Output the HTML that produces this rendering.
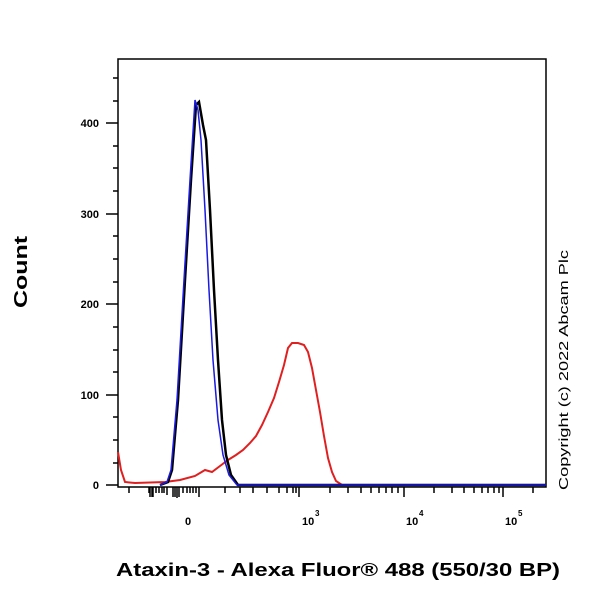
<!DOCTYPE html>
<html><head><style>body{margin:0;background:#fff}svg{display:block}</style></head><body>
<svg width="600" height="600" xmlns="http://www.w3.org/2000/svg" font-family="Liberation Sans, sans-serif">
<rect x="0" y="0" width="600" height="600" fill="#fff"/>
<rect x="118" y="59" width="428" height="428" fill="none" stroke="#000" stroke-width="1.5"/>
<g stroke="#000" stroke-width="1.5">
<line x1="106" y1="485" x2="118" y2="485"/><line x1="106" y1="395" x2="118" y2="395"/><line x1="106" y1="304" x2="118" y2="304"/><line x1="106" y1="214" x2="118" y2="214"/><line x1="106" y1="123" x2="118" y2="123"/>
<line x1="113" y1="463" x2="118" y2="463"/><line x1="113" y1="440" x2="118" y2="440"/><line x1="113" y1="417" x2="118" y2="417"/><line x1="113" y1="372" x2="118" y2="372"/><line x1="113" y1="350" x2="118" y2="350"/><line x1="113" y1="327" x2="118" y2="327"/><line x1="113" y1="282" x2="118" y2="282"/><line x1="113" y1="259" x2="118" y2="259"/><line x1="113" y1="236" x2="118" y2="236"/><line x1="113" y1="191" x2="118" y2="191"/><line x1="113" y1="168" x2="118" y2="168"/><line x1="113" y1="146" x2="118" y2="146"/><line x1="113" y1="101" x2="118" y2="101"/><line x1="113" y1="78" x2="118" y2="78"/>
</g>
<g font-size="11" font-weight="bold" text-anchor="end">
<text x="99" y="489">0</text><text x="99" y="399">100</text><text x="99" y="308">200</text><text x="99" y="218">300</text><text x="99" y="127">400</text>
</g>
<g stroke="#000" stroke-width="1.5">
<line x1="129" y1="487" x2="129" y2="493"/><line x1="149" y1="487" x2="149" y2="493"/>
<line x1="150" y1="487" x2="150" y2="497"/><line x1="152" y1="487" x2="152" y2="497"/><line x1="153" y1="487" x2="153" y2="497"/>
<line x1="156" y1="487" x2="156" y2="493"/><line x1="159" y1="487" x2="159" y2="493"/><line x1="162" y1="487" x2="162" y2="493"/><line x1="164" y1="487" x2="164" y2="493"/><line x1="167" y1="487" x2="167" y2="495"/>
<line x1="173" y1="487" x2="173" y2="497"/><line x1="175" y1="487" x2="175" y2="497"/><line x1="177" y1="487" x2="177" y2="498"/><line x1="179" y1="487" x2="179" y2="497"/>
<line x1="183" y1="487" x2="183" y2="493"/><line x1="187" y1="487" x2="187" y2="493"/><line x1="190" y1="487" x2="190" y2="493"/><line x1="193" y1="487" x2="193" y2="493"/><line x1="196" y1="487" x2="196" y2="493"/><line x1="199" y1="487" x2="199" y2="497"/>
<line x1="225" y1="487" x2="225" y2="493"/><line x1="240" y1="487" x2="240" y2="493"/><line x1="253" y1="487" x2="253" y2="493"/><line x1="267" y1="487" x2="267" y2="493"/><line x1="279" y1="487" x2="279" y2="493"/><line x1="287" y1="487" x2="287" y2="493"/><line x1="293" y1="487" x2="293" y2="493"/><line x1="296" y1="487" x2="296" y2="493"/><line x1="299" y1="487" x2="299" y2="497"/>
<line x1="330" y1="487" x2="330" y2="493"/><line x1="348" y1="487" x2="348" y2="493"/><line x1="361" y1="487" x2="361" y2="493"/><line x1="371" y1="487" x2="371" y2="493"/><line x1="379" y1="487" x2="379" y2="493"/><line x1="386" y1="487" x2="386" y2="493"/><line x1="392" y1="487" x2="392" y2="493"/><line x1="398" y1="487" x2="398" y2="493"/><line x1="404" y1="487" x2="404" y2="497"/>
<line x1="434" y1="487" x2="434" y2="493"/><line x1="452" y1="487" x2="452" y2="493"/><line x1="464" y1="487" x2="464" y2="493"/><line x1="474" y1="487" x2="474" y2="493"/><line x1="482" y1="487" x2="482" y2="493"/><line x1="488" y1="487" x2="488" y2="493"/><line x1="494" y1="487" x2="494" y2="493"/><line x1="499" y1="487" x2="499" y2="493"/><line x1="503" y1="487" x2="503" y2="497"/>
<line x1="533" y1="487" x2="533" y2="493"/>
</g>
<g font-size="11" font-weight="bold">
<text x="185" y="525">0</text>
<text x="302" y="525">10</text><text x="315" y="516" font-size="8">3</text>
<text x="406" y="525">10</text><text x="419" y="516" font-size="8">4</text>
<text x="505" y="525">10</text><text x="518" y="516" font-size="8">5</text>
</g>
<polyline fill="none" stroke="#e02020" stroke-width="2" points="118,452 121,470 125,482 135,483 165,482 180,480 195,476 205,470 212,472 220,466 228,460 236,455 243,450 250,443 256,436 262,425 268,412 274,398 279,382 284,365 288,348 292,343 298,343 304,345 308,352 312,368 316,390 320,412 324,436 328,458 332,472 336,481 342,485 546,485"/>
<polyline fill="none" stroke="#000" stroke-width="2.5" points="160,485 168,482 172,470 178,400 185,280 191,180 196,105 199,102 203,125 206,140 210,210 214,290 218,360 222,420 226,455 231,475 238,485 546,485"/>
<polyline fill="none" stroke="#1a1ae0" stroke-width="1.5" points="160,485 167,482 171,470 177,400 184,280 190,180 195,100 198,110 201,140 205,210 209,290 213,360 218,420 223,455 229,475 237,485 546,485"/>
<text x="0" y="0" font-size="18" font-weight="bold" textLength="72" lengthAdjust="spacingAndGlyphs" transform="translate(27,308) rotate(-90)">Count</text>
<text x="0" y="0" font-size="13" textLength="240" lengthAdjust="spacingAndGlyphs" transform="translate(568,490) rotate(-90)">Copyright (c) 2022 Abcam Plc</text>
<text x="116" y="576" font-size="18" font-weight="bold" textLength="444" lengthAdjust="spacingAndGlyphs">Ataxin-3 - Alexa Fluor® 488 (550/30 BP)</text>
</svg>
</body></html>
